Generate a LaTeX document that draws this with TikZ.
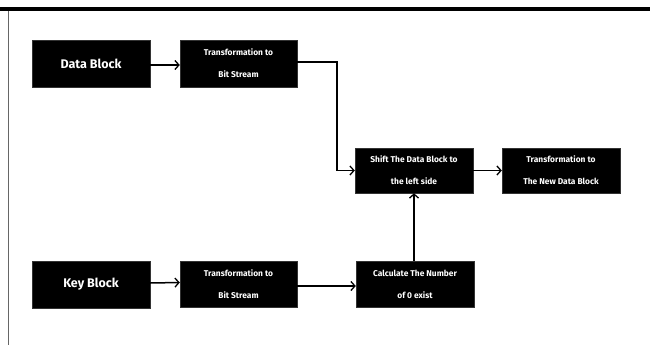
\documentclass[tikz,border=0pt]{standalone}
\usepackage{fontspec}
\setmainfont{Fira Sans}
\usetikzlibrary{arrows.meta}
\begin{document}
\begin{tikzpicture}[x=1pt,y=-1pt,
  blk/.style={fill=black,draw=black!80,text=white,inner sep=0pt,minimum width=118pt,minimum height=47pt,align=center,font=\bfseries\fontsize{8.4}{22}\selectfont},
  bigblk/.style={blk,font=\bfseries\fontsize{12.5}{14}\selectfont},
  conn/.style={line width=1.5pt,-{Straight Barb[length=4pt,width=9pt,line width=1.3pt]}},
  wire/.style={line width=1.5pt}]
\useasboundingbox (0,0) rectangle (650,345);
\fill[white] (0,0) rectangle (650,345);
\fill[black] (0,7.5) rectangle (650,11);
\draw[black!60,line width=1pt] (8,11) -- (8,345);
\node[bigblk] (db) at (91,63.5) {Data Block};
\node[blk,minimum width=117pt] (t1) at (238.5,63.5) {Transformation to\\Bit Stream};
\node[blk,minimum height=45pt] (sh) at (414,170.5) {Shift The Data Block to\\the left side};
\node[blk,minimum height=45pt] (nd) at (561,170.5) {Transformation to\\The New Data Block};
\node[bigblk] (kb) at (91,284.5) {Key Block};
\node[blk,minimum width=117pt,minimum height=46pt] (t2) at (238.5,284) {Transformation to\\Bit Stream};
\node[blk,minimum height=46pt] (ca) at (415,284) {Calculate The Number\\of 0 exist};
\coordinate (bend) at (337,0);
\draw[conn] ([yshift=-1.5pt]db.east) -- ([yshift=-1.5pt]t1.west);
\draw[conn] ([yshift=1.5pt]t1.east) -| (bend |- sh.west) -- (sh.west);
\draw[conn] (sh.east) -- (nd.west);
\draw[conn] ([yshift=1.5pt]kb.east) -- ([yshift=1.5pt]t2.west);
\draw[conn] ([yshift=-2pt]t2.east) -- ([yshift=-2pt]ca.west);
\draw[conn] ([xshift=-1pt]ca.north) -- ([xshift=-1pt]ca.north |- sh.south);
\end{tikzpicture}
\end{document}
